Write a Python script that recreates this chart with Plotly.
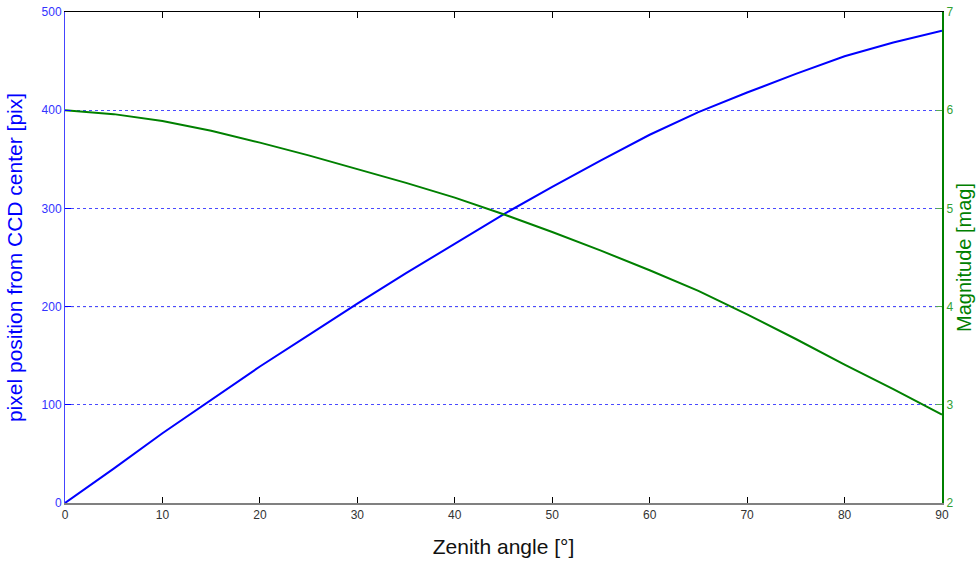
import plotly.graph_objects as go

zenith = [0, 5, 10, 15, 20, 25, 30, 35, 40, 45, 50, 55, 60, 65, 70, 75, 80, 85, 90]
pixel_pos = [0, 35, 71, 105, 139, 171, 203, 234, 264, 294, 322, 349, 375, 398, 418, 437, 455, 469, 481]
magnitude = [6.00, 5.96, 5.89, 5.79, 5.67, 5.54, 5.40, 5.26, 5.11, 4.94, 4.76, 4.57, 4.37, 4.16, 3.92, 3.67, 3.41, 3.16, 2.90]

x_ticks = [0, 10, 20, 30, 40, 50, 60, 70, 80, 90]
left_ticks = [0, 100, 200, 300, 400, 500]
right_ticks = [2, 3, 4, 5, 6, 7]

FONT = "Liberation Sans, Arial, sans-serif"
BLUE = "#0000ff"
GREEN = "#008000"

fig = go.Figure()
# invisible helper trace so that the top (box) axis is drawn
fig.add_trace(go.Scatter(x=zenith, y=pixel_pos, mode="lines", opacity=0, xaxis="x2", yaxis="y",
                         hoverinfo="skip", showlegend=False))
fig.add_trace(go.Scatter(x=zenith, y=pixel_pos, mode="lines", line=dict(color=BLUE, width=2),
                         yaxis="y", showlegend=False))
fig.add_trace(go.Scatter(x=zenith, y=magnitude, mode="lines", line=dict(color=GREEN, width=2),
                         yaxis="y2", showlegend=False))

fig.update_layout(
    width=979, height=563,
    margin=dict(l=65, r=37, t=12, b=60),
    paper_bgcolor="white", plot_bgcolor="white",
    font=dict(family=FONT, size=12, color="#333333"),
    xaxis=dict(range=[0, 90], tickvals=x_ticks, ticks="inside", ticklen=6, tickcolor="black",
               showline=True, linecolor="#808080", linewidth=2, showgrid=False, zeroline=False,
               automargin=False, ticklabeloverflow="allow",
               tickfont=dict(size=12, color="#333333"),
               title=dict(text="Zenith angle [°]", font=dict(size=21, color="#111111"), standoff=18)),
    xaxis2=dict(range=[0, 90], tickvals=x_ticks, ticks="inside", ticklen=6, tickcolor="black",
                overlaying="x", side="top", showline=True, linecolor="black", linewidth=1,
                showticklabels=False, showgrid=False, zeroline=False, automargin=False),
    yaxis=dict(range=[0, 500], tickvals=left_ticks, ticks="inside", ticklen=6, tickcolor=BLUE,
               showline=True, linecolor="#4444ff", linewidth=1, zeroline=False,
               showgrid=True, gridcolor="#4a4aff", griddash="dot", gridwidth=1,
               automargin=False, ticklabeloverflow="allow",
               tickfont=dict(size=12, color="#3333ff"),
               title=dict(text="pixel position from CCD center [pix]", font=dict(size=21, color=BLUE), standoff=13)),
    yaxis2=dict(range=[2, 7], tickvals=right_ticks, ticks="inside", ticklen=6, tickcolor="#55aa55",
                overlaying="y", side="right", showline=True, linecolor=GREEN, linewidth=2,
                showgrid=False, zeroline=False, automargin=False, ticklabeloverflow="allow",
                tickfont=dict(size=12, color="#33a033"),
                title=dict(text="Magnitude [mag]", font=dict(size=20, color=GREEN), standoff=3)),
    shapes=[dict(type="line", xref="paper", x0=0, x1=1, yref="y", y0=200, y1=200,
                 line=dict(color="#1a1a3a", width=1, dash="dot"), layer="below")],
)

fig.write_html("out.html", config={"displayModeBar": False},
               post_script="document.body.style.margin='0';")
